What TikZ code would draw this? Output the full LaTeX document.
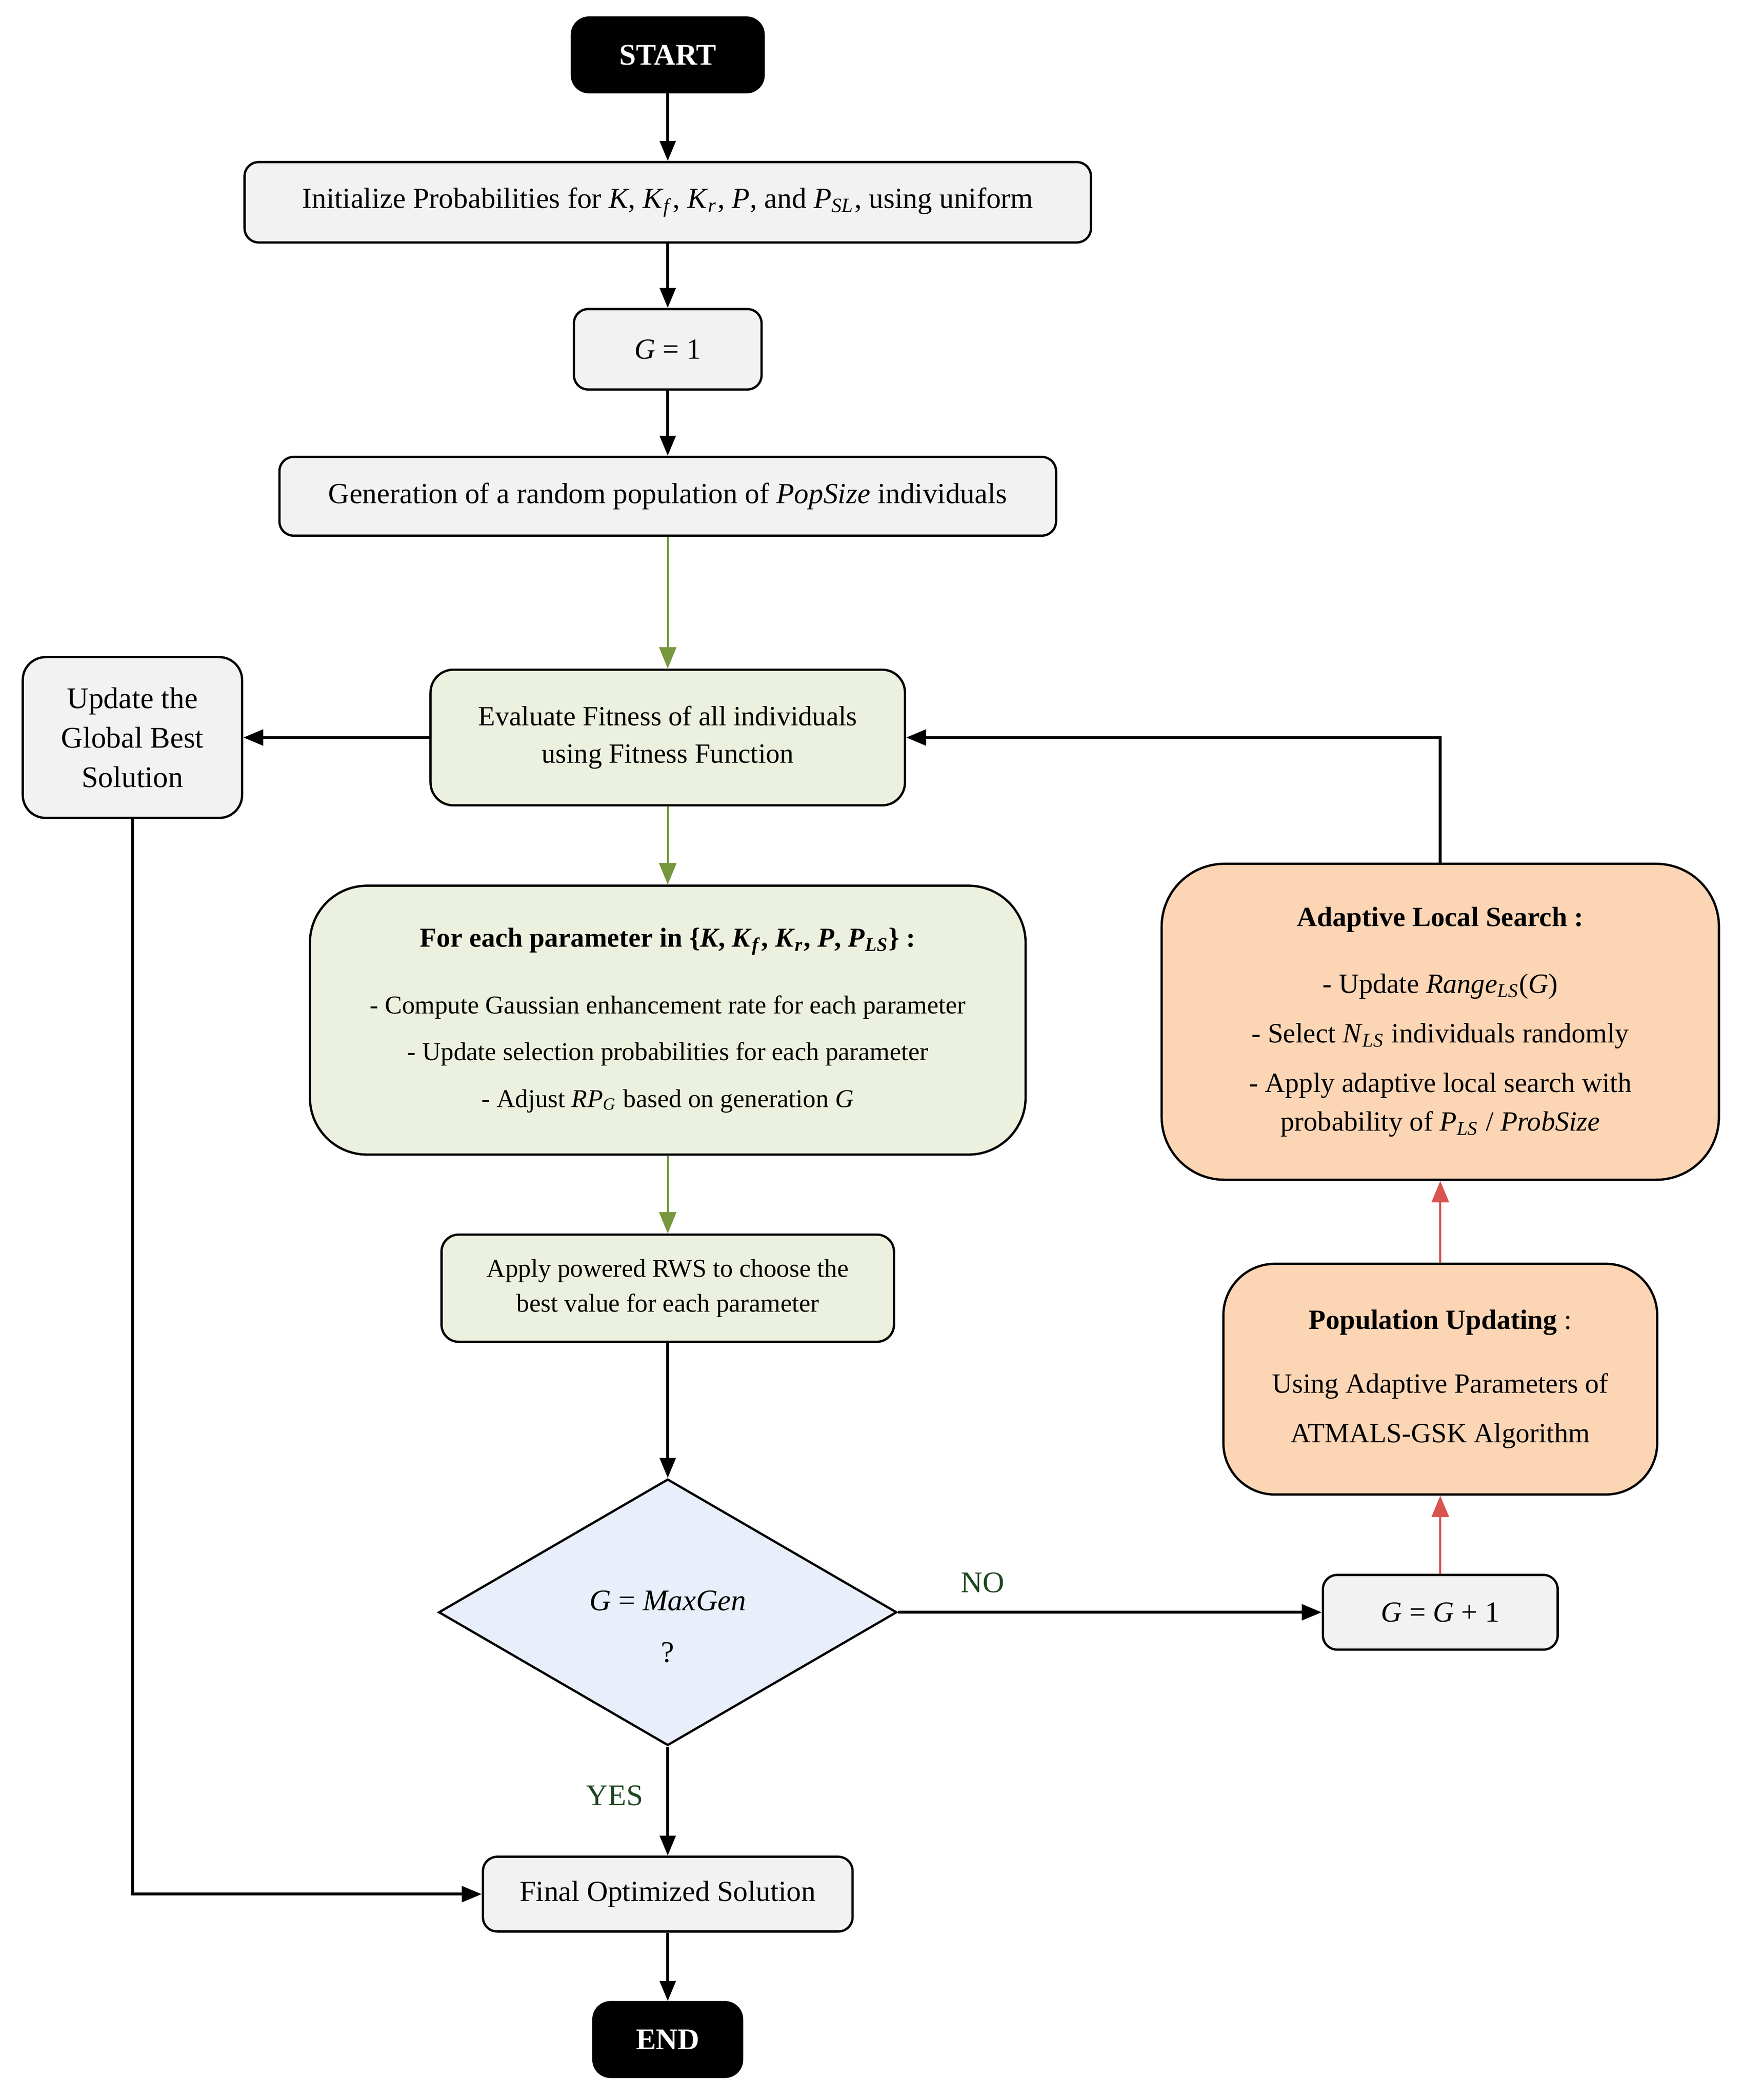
\documentclass[tikz,border=0pt]{standalone}
\usepackage{fontspec}
\setmainfont{Liberation Serif}
\usetikzlibrary{arrows.meta,shapes.geometric}
\definecolor{boxgray}{HTML}{F2F2F2}
\definecolor{boxgreen}{HTML}{EBF1DE}
\definecolor{boxorange}{HTML}{FCD5B5}
\definecolor{boxblue}{HTML}{E8EFFA}
\definecolor{arrgreen}{HTML}{76973B}
\definecolor{arrred}{HTML}{D9534F}
\definecolor{lblgreen}{HTML}{1E4620}
\newcommand{\iv}[1]{\textit{#1}}
\newcommand{\isub}[2]{\textit{#1}\textsubscript{\textit{#2}}}
\begin{document}
\begin{tikzpicture}[
        base/.style={draw,align=center,line width=0.8pt,inner sep=2pt},
        term/.style={base,fill=black,text=white,rounded corners=6pt,font=\fontsize{10.5}{13}\selectfont\bfseries},
        plain/.style={base,fill=boxgray,rounded corners=5pt,font=\fontsize{10.2}{13.8}\selectfont},
        greenbox/.style={base,fill=boxgreen},
        orangebox/.style={base,fill=boxorange},
        decision/.style={base,diamond,fill=boxblue,inner sep=0pt,font=\fontsize{10.5}{18}\selectfont},
        blk/.style={-{Triangle[length=7pt,width=5.5pt]},line width=1pt},
        grn/.style={-{Triangle[length=7.5pt,width=6pt]},draw=arrgreen,fill=arrgreen,line width=0.6pt},
        rd/.style={-{Triangle[length=7.5pt,width=6pt]},draw=arrred,fill=arrred,line width=0.8pt},
        lbl/.style={text=lblgreen,font=\fontsize{10.5}{13}\selectfont}]
    \useasboundingbox (0,0) rectangle (21.44,-25.855);
    % Main column
    \node[term,minimum width=2.36cm,minimum height=0.92cm] (start) at (8.22,-0.676) {START};
    \node[plain,minimum width=10.42cm,minimum height=0.99cm] (init) at (8.22,-2.49)
        {Initialize Probabilities for \iv{K}, \isub{K}{f}, \isub{K}{r}, \iv{P}, and \isub{P}{SL}, using uniform};
    \node[plain,minimum width=2.31cm,minimum height=0.99cm] (g1) at (8.22,-4.30) {\iv{G} = 1};
    \node[plain,minimum width=9.56cm,minimum height=0.97cm] (gen) at (8.22,-6.11)
        {Generation of a random population of \iv{PopSize} individuals};
    \node[greenbox,rounded corners=8pt,minimum width=5.84cm,minimum height=1.67cm,font=\fontsize{9.75}{13.1}\selectfont] (eval) at (8.22,-9.08)
        {Evaluate Fitness of all individuals\\using Fitness Function};
    \node[greenbox,rounded corners=20pt,minimum width=8.81cm,minimum height=3.31cm,font=\fontsize{9}{16.4}\selectfont] (param) at (8.22,-12.56)
        {{\fontsize{9.6}{13}\selectfont\bfseries For each parameter in \{\iv{K}, \isub{K}{f}, \isub{K}{r}, \iv{P}, \isub{P}{LS}\} :}\\[7pt]
         - Compute Gaussian enhancement rate for each parameter\\
         - Update selection probabilities for each parameter\\
         - Adjust \isub{RP}{G} based on generation \iv{G}};
    \node[greenbox,rounded corners=6pt,minimum width=5.57cm,minimum height=1.32cm,font=\fontsize{9}{12.2}\selectfont] (rws) at (8.22,-15.86)
        {Apply powered RWS to choose the\\best value for each parameter};
    \node[decision,minimum width=5.64cm,minimum height=3.28cm] (check) at (8.22,-19.85)
        {\rule{0pt}{17pt}\iv{G} = \iv{MaxGen}\\?};
    \node[plain,minimum width=4.55cm,minimum height=0.92cm] (final) at (8.22,-23.32) {Final Optimized Solution};
    \node[term,minimum width=1.83cm,minimum height=0.92cm] (end) at (8.22,-25.11) {END};
    % Left column
    \node[plain,font=\fontsize{10.5}{13.8}\selectfont,rounded corners=8pt,minimum width=2.70cm,minimum height=1.98cm] (best) at (1.63,-9.08)
        {Update the\\Global Best\\Solution};
    % Right column
    \node[plain,minimum width=2.89cm,minimum height=0.92cm] (next) at (17.73,-19.85) {\iv{G} = \iv{G} + 1};
    \node[orangebox,rounded corners=18pt,minimum width=5.34cm,minimum height=2.84cm,font=\fontsize{9.75}{17.4}\selectfont] (pop) at (17.73,-16.98)
        {\textbf{Population Updating} :\\[5pt]
         Using Adaptive Parameters of\\
         ATMALS-GSK Algorithm};
    \node[orangebox,rounded corners=22pt,minimum width=6.86cm,minimum height=3.89cm,font=\fontsize{9.75}{17.4}\selectfont] (als) at (17.73,-12.58)
        {\textbf{Adaptive Local Search :}\\[6pt]
         - Update \isub{Range}{LS}(\iv{G})\\
         - Select \isub{N}{LS} individuals randomly\\
         - Apply adaptive local search with\\[-4pt]
         probability of \isub{P}{LS} / \iv{ProbSize}};
    % Connectors
    \draw[blk] (start) -- (init);
    \draw[blk] (init) -- (g1);
    \draw[blk] (g1) -- (gen);
    \draw[grn] (gen) -- (eval);
    \draw[grn] (eval) -- (param);
    \draw[grn] (param) -- (rws);
    \draw[blk] (rws) -- (check);
    \draw[blk] (check) -- node[lbl,left=0.17cm,pos=0.45] {YES} (final);
    \draw[blk] (final) -- (end);
    \draw[blk] (eval) -- (best);
    \draw[blk] (best.south) |- (final.west);
    \draw[blk] (check.east) -- node[lbl,above=3pt,pos=0.2] {NO} (next.west);
    \draw[rd] (next) -- (pop);
    \draw[rd] (pop) -- (als);
    \draw[blk] (als.north) |- (eval.east);
\end{tikzpicture}
\end{document}
